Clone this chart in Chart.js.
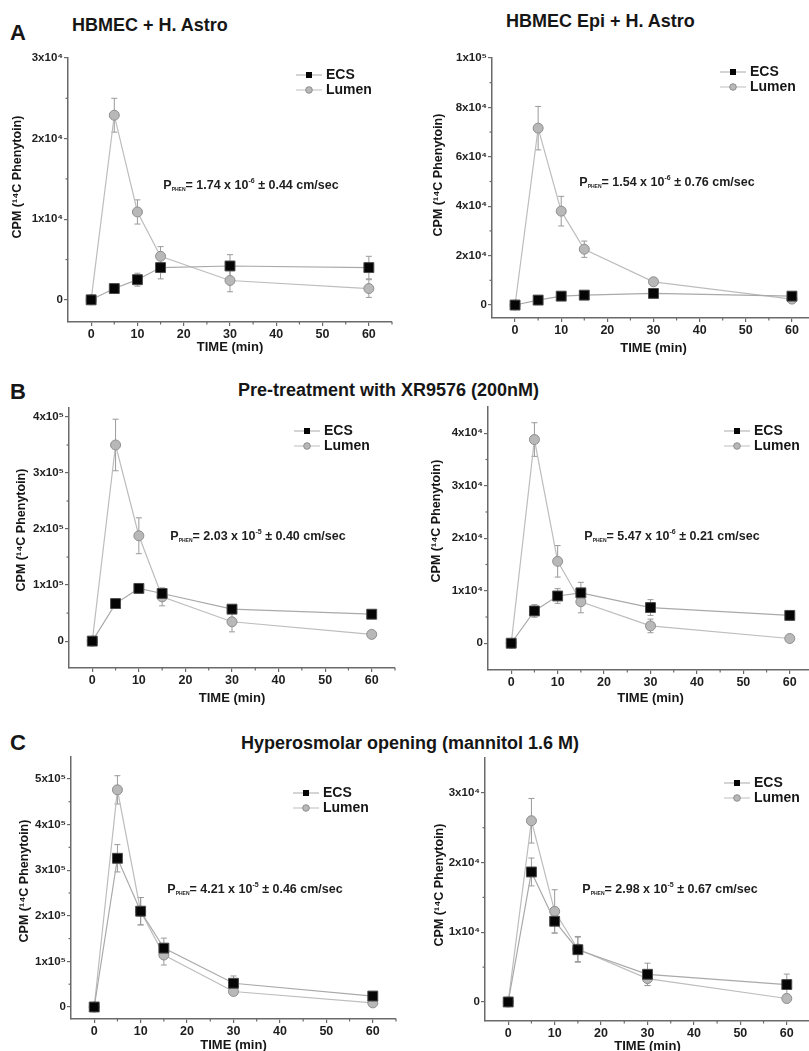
<!DOCTYPE html>
<html><head><meta charset="utf-8">
<script src="https://cdn.jsdelivr.net/npm/chart.js@4.4.1/dist/chart.umd.min.js"></script>
<style>
html,body{margin:0;padding:0;width:809px;height:1051px;overflow:hidden;background:#fff;}
canvas{position:absolute;left:0;top:0;}
.t{position:absolute;font-family:"Liberation Sans",Arial,sans-serif;font-weight:bold;color:#161616;white-space:nowrap;line-height:1;}
</style></head><body>
<div class="t" style="left:10px;top:22px;font-size:22px">A</div>
<div class="t" style="left:72px;top:16px;font-size:18px">HBMEC + H. Astro</div>
<div class="t" style="left:506px;top:12px;font-size:18px">HBMEC Epi + H. Astro</div>
<div class="t" style="left:10px;top:381px;font-size:22px">B</div>
<div class="t" style="left:238px;top:381px;font-size:18px">Pre-treatment with XR9576 (200nM)</div>
<div class="t" style="left:10px;top:732px;font-size:22px">C</div>
<div class="t" style="left:241px;top:734px;font-size:18px">Hyperosmolar opening (mannitol 1.6 M)</div>
<canvas id="c0" width="830" height="1051"></canvas>
<canvas id="c1" width="830" height="1051"></canvas>
<canvas id="c2" width="830" height="1051"></canvas>
<canvas id="c3" width="830" height="1051"></canvas>
<canvas id="c4" width="830" height="1051"></canvas>
<canvas id="c5" width="830" height="1051"></canvas>
<script>
// ---------- DATA ----------
const times = [0, 5, 10, 15, 30, 60];
const xTickValues = [0, 10, 20, 30, 40, 50, 60];
const xMinorTicks = [5, 15, 25, 35, 45, 55, 65];
const seriesNames = ['ECS', 'Lumen'];
const xAxisTitle = 'TIME (min)';
const yAxisTitle = 'CPM (\u00B9\u2074C Phenytoin)';

// Panel A left: HBMEC + H. Astro
const aLeftEcs      = [0, 1400, 2500, 4000, 4200, 4000];
const aLeftEcsErr   = [0, 300, 800, 1400, 1400, 1400];
const aLeftLumen    = [0, 22900, 10900, 5400, 2400, 1400];
const aLeftLumenErr = [0, 2100, 1500, 1200, 1400, 1100];
const aLeftYTicks   = [0, 10000, 20000, 30000];
const aLeftYLabels  = ['0', '1x10\u2074', '2x10\u2074', '3x10\u2074'];
const aLeftYMinor   = [5000, 15000, 25000];
const aLeftP        = ['1.74', '-6', '0.44'];

// Panel A right: HBMEC Epi + H. Astro
const aRightEcs      = [0, 2000, 3600, 4000, 4700, 3600];
const aRightEcsErr   = [0, 600, 800, 900, 1000, 900];
const aRightLumen    = [0, 71600, 38000, 22600, 9400, 2400];
const aRightLumenErr = [0, 8800, 6000, 3300, 1200, 800];
const aRightYTicks   = [0, 20000, 40000, 60000, 80000, 100000];
const aRightYLabels  = ['0', '2x10\u2074', '4x10\u2074', '6x10\u2074', '8x10\u2074', '1x10\u2075'];
const aRightYMinor   = [10000, 30000, 50000, 70000, 90000];
const aRightP        = ['1.54', '-6', '0.76'];

// Panel B left: pre-treatment XR9576
const bLeftEcs      = [0, 67000, 94000, 85000, 57000, 48000];
const bLeftEcsErr   = [0, 4000, 5000, 6000, 4000, 3000];
const bLeftLumen    = [0, 350000, 188000, 79000, 34500, 12000];
const bLeftLumenErr = [0, 46000, 32000, 16000, 18000, 5000];
const bLeftYTicks   = [0, 100000, 200000, 300000, 400000];
const bLeftYLabels  = ['0', '1x10\u2075', '2x10\u2075', '3x10\u2075', '4x10\u2075'];
const bLeftYMinor   = [50000, 150000, 250000, 350000];
const bLeftP        = ['2.03', '-5', '0.40'];

// Panel B right
const bRightEcs      = [0, 6150, 9000, 9600, 6800, 5300];
const bRightEcsErr   = [0, 1200, 1400, 2000, 1500, 900];
const bRightLumen    = [0, 38800, 15600, 7900, 3300, 900];
const bRightLumenErr = [0, 3200, 3000, 2100, 1300, 500];
const bRightYTicks   = [0, 10000, 20000, 30000, 40000];
const bRightYLabels  = ['0', '1x10\u2074', '2x10\u2074', '3x10\u2074', '4x10\u2074'];
const bRightYMinor   = [5000, 15000, 25000, 35000];
const bRightP        = ['5.47', '-6', '0.21'];

// Panel C left: hyperosmolar opening
const cLeftEcs      = [0, 326000, 210000, 129000, 52000, 24000];
const cLeftEcsErr   = [0, 30000, 30000, 22000, 16000, 8000];
const cLeftLumen    = [0, 476000, 210000, 114000, 34000, 9000];
const cLeftLumenErr = [0, 31000, 30000, 22000, 6000, 5000];
const cLeftYTicks   = [0, 100000, 200000, 300000, 400000, 500000];
const cLeftYLabels  = ['0', '1x10\u2075', '2x10\u2075', '3x10\u2075', '4x10\u2075', '5x10\u2075'];
const cLeftYMinor   = [50000, 150000, 250000, 350000, 450000];
const cLeftP        = ['4.21', '-5', '0.46'];

// Panel C right
const cRightEcs      = [0, 18650, 11580, 7500, 3970, 2500];
const cRightEcsErr   = [0, 2000, 1700, 1800, 1600, 1500];
const cRightLumen    = [0, 26000, 13000, 7600, 3350, 500];
const cRightLumenErr = [0, 3200, 3100, 1800, 1000, 600];
const cRightYTicks   = [0, 10000, 20000, 30000];
const cRightYLabels  = ['0', '1x10\u2074', '2x10\u2074', '3x10\u2074'];
const cRightYMinor   = [5000, 15000, 25000];
const cRightP        = ['2.98', '-5', '0.67'];

// ---------- LAYOUT (page pixels) ----------
const panels = [
  {ecs:aLeftEcs, ecsErr:aLeftEcsErr, lum:aLeftLumen, lumErr:aLeftLumenErr, yTicks:aLeftYTicks, yLabels:aLeftYLabels, yMinor:aLeftYMinor, p:aLeftP,
   yMin:-2750, yMax:30000, l:68, r:392, t:58, b:322, yTitle:[18,177], xTitleY:347, leg:[309,75], pPos:[251,186]},
  {ecs:aRightEcs, ecsErr:aRightEcsErr, lum:aRightLumen, lumErr:aRightLumenErr, yTicks:aRightYTicks, yLabels:aRightYLabels, yMinor:aRightYMinor, p:aRightP,
   yMin:-5250, yMax:100000, l:492, r:815, t:58, b:318, yTitle:[439,175], xTitleY:348, leg:[733,72], pPos:[667,183]},
  {ecs:bLeftEcs, ecsErr:bLeftEcsErr, lum:bLeftLumen, lumErr:bLeftLumenErr, yTicks:bLeftYTicks, yLabels:bLeftYLabels, yMinor:bLeftYMinor, p:bLeftP,
   yMin:-48000, yMax:416000, l:69, r:395, t:408, b:668, yTitle:[22,530], xTitleY:698, leg:[307,431], pPos:[258,537]},
  {ecs:bRightEcs, ecsErr:bRightEcsErr, lum:bRightLumen, lumErr:bRightLumenErr, yTicks:bRightYTicks, yLabels:bRightYLabels, yMinor:bRightYMinor, p:bRightP,
   yMin:-5100, yMax:45000, l:488, r:813, t:407, b:670, yTitle:[437,521], xTitleY:698, leg:[737,431], pPos:[672,537]},
  {ecs:cLeftEcs, ecsErr:cLeftEcsErr, lum:cLeftLumen, lumErr:cLeftLumenErr, yTicks:cLeftYTicks, yLabels:cLeftYLabels, yMinor:cLeftYMinor, p:cLeftP,
   yMin:-26300, yMax:548000, l:71, r:396, t:757, b:1019, yTitle:[25,881], xTitleY:1045, leg:[306,793], pPos:[255,890]},
  {ecs:cRightEcs, ecsErr:cRightEcsErr, lum:cRightLumen, lumErr:cRightLumenErr, yTicks:cRightYTicks, yLabels:cRightYLabels, yMinor:cRightYMinor, p:cRightP,
   yMin:-2730, yMax:35000, l:485, r:810, t:758, b:1021, yTitle:[440,885], xTitleY:1046, leg:[737,783], pPos:[670,890]}
];

const FAM = '"Liberation Sans", Arial, sans-serif';
const AXIS = '#6a6a6a';
const ECS_LINE = '#a9a9a9', LUM_LINE = '#bdbdbd';
const ECS_FILL = '#050505', LUM_FILL = '#b8b8b8', LUM_EDGE = '#8e8e8e';
const ERR = '#9a9a9a';

const errorBars = {
  id: 'errorBars',
  beforeDatasetsDraw(chart) {
    const {ctx, scales: {y}} = chart;
    ctx.save();
    ctx.strokeStyle = ERR; ctx.lineWidth = 1;
    chart.data.datasets.forEach((ds, di) => {
      const meta = chart.getDatasetMeta(di);
      meta.data.forEach((pt, i) => {
        const e = ds.errors[i];
        if (!e) return;
        const v = ds.data[i].y;
        const y1 = y.getPixelForValue(v + e), y2 = y.getPixelForValue(v - e);
        const x = pt.x;
        ctx.beginPath();
        ctx.moveTo(x, y1); ctx.lineTo(x, y2);
        ctx.moveTo(x - 3, y1); ctx.lineTo(x + 3, y1);
        ctx.moveTo(x - 3, y2); ctx.lineTo(x + 3, y2);
        ctx.stroke();
      });
    });
    ctx.restore();
  }
};

const extras = {
  id: 'extras',
  afterDraw(chart, args, o) {
    const {ctx, chartArea: a, scales: {x, y}} = chart;
    ctx.save();
    // minor ticks
    ctx.strokeStyle = AXIS; ctx.lineWidth = 1.2;
    xMinorTicks.forEach(v => {
      const px = x.getPixelForValue(v);
      ctx.beginPath(); ctx.moveTo(px, a.bottom); ctx.lineTo(px, a.bottom + 2.5); ctx.stroke();
    });
    o.yMinor.forEach(v => {
      const py = y.getPixelForValue(v);
      ctx.beginPath(); ctx.moveTo(a.left, py); ctx.lineTo(a.left - 2.5, py); ctx.stroke();
    });
    // y axis title
    ctx.save();
    ctx.translate(o.yTitle[0], o.yTitle[1]);
    ctx.rotate(-Math.PI / 2);
    ctx.fillStyle = '#161616';
    ctx.font = 'bold 12.5px ' + FAM;
    ctx.textAlign = 'center'; ctx.textBaseline = 'middle';
    ctx.fillText(yAxisTitle, 0, 0);
    ctx.restore();
    // legend
    const [mx, my] = o.leg;
    seriesNames.forEach((name, i) => {
      const yy = my + i * 15;
      ctx.strokeStyle = i === 0 ? ECS_LINE : LUM_LINE; ctx.lineWidth = 1;
      ctx.beginPath(); ctx.moveTo(mx - 13, yy); ctx.lineTo(mx + 13, yy); ctx.stroke();
      if (i === 0) {
        ctx.fillStyle = ECS_FILL; ctx.fillRect(mx - 3, yy - 3, 6, 6);
      } else {
        ctx.fillStyle = LUM_FILL; ctx.strokeStyle = LUM_EDGE;
        ctx.beginPath(); ctx.arc(mx, yy, 3.3, 0, Math.PI * 2); ctx.fill(); ctx.stroke();
      }
      ctx.fillStyle = '#161616';
      ctx.font = 'bold 14px ' + FAM;
      ctx.textBaseline = 'middle'; ctx.textAlign = 'left';
      ctx.fillText(name, mx + 17, yy + 0.5);
    });
    // permeability annotation
    const [m, ex, sd] = o.p;
    const parts = [
      {s: 'P', f: 12.5, dy: 0},
      {s: 'PHEN', f: 5, dy: 3.5},
      {s: '= ' + m + ' x 10', f: 12.5, dy: 0},
      {s: ex, f: 7, dy: -4.5},
      {s: ' \u00B1 ' + sd + ' cm/sec', f: 12.5, dy: 0}
    ];
    let total = 0;
    parts.forEach(pt => { ctx.font = 'bold ' + pt.f + 'px ' + FAM; pt.w = ctx.measureText(pt.s).width; total += pt.w; });
    let cx = o.pPos[0] - total / 2;
    ctx.fillStyle = '#1e1e1e'; ctx.textBaseline = 'middle'; ctx.textAlign = 'left';
    parts.forEach(pt => {
      ctx.font = 'bold ' + pt.f + 'px ' + FAM;
      ctx.fillText(pt.s, cx, o.pPos[1] + pt.dy);
      cx += pt.w;
    });
    ctx.restore();
  }
};

function makeChart(canvas, p) {
  const W = canvas.width, H = canvas.height;
  const tf = 13;
  const padLeft = p.yTitle[0] - 6;
  const scaleBottom = p.xTitleY + tf / 2;
  const xTickFont = {family: FAM, size: 12.5, weight: 'bold'};
  const yTickFont = {family: FAM, size: 11.5, weight: 'bold'};
  const titleFont = {family: FAM, size: tf, weight: 'bold', lineHeight: 1};
  return new Chart(canvas, {
    type: 'line',
    data: {
      datasets: [
        {label: seriesNames[0], data: times.map((t, i) => ({x: t, y: p.ecs[i]})), errors: p.ecsErr,
         borderColor: ECS_LINE, borderWidth: 1.2, tension: 0, fill: false,
         pointStyle: 'rect', pointRadius: 7, pointBackgroundColor: ECS_FILL, pointBorderColor: '#4a4a4a', pointBorderWidth: 1},
        {label: seriesNames[1], data: times.map((t, i) => ({x: t, y: p.lum[i]})), errors: p.lumErr,
         borderColor: LUM_LINE, borderWidth: 1.2, tension: 0, fill: false,
         pointStyle: 'circle', pointRadius: 5, pointBackgroundColor: LUM_FILL, pointBorderColor: LUM_EDGE, pointBorderWidth: 1}
      ]
    },
    options: {
      responsive: false, animation: false, events: [],
      layout: {padding: {left: padLeft, top: p.t, right: W - p.r, bottom: H - scaleBottom}},
      plugins: {legend: {display: false}, tooltip: {enabled: false},
                extras: {yMinor: p.yMinor, leg: p.leg, p: p.p, pPos: p.pPos, yTitle: p.yTitle}},
      scales: {
        x: {
          type: 'linear', min: -5, max: 65,
          afterFit: s => { s.height = scaleBottom - p.b; },
          afterBuildTicks: s => { s.ticks = xTickValues.map(v => ({value: v})); },
          ticks: {callback: v => String(v), font: xTickFont, color: '#1e1e1e', padding: 1, maxRotation: 0, autoSkip: false},
          grid: {display: true, drawOnChartArea: false, drawTicks: true, tickLength: 4, color: AXIS, lineWidth: 1.2},
          border: {display: true, color: AXIS, width: 1.5},
          title: {display: true, text: xAxisTitle, font: titleFont, color: '#161616', padding: 0}
        },
        y: {
          type: 'linear', min: p.yMin, max: p.yMax,
          afterFit: s => { s.width = p.l - padLeft; },
          afterBuildTicks: s => { s.ticks = p.yTicks.map(v => ({value: v})); },
          ticks: {callback: v => p.yLabels[p.yTicks.indexOf(v)], font: yTickFont, color: '#1e1e1e', padding: 1, autoSkip: false},
          grid: {display: true, drawOnChartArea: false, drawTicks: true, tickLength: 4, color: AXIS, lineWidth: 1.2},
          border: {display: true, color: AXIS, width: 1.5},
          title: {display: false}
        }
      }
    },
    plugins: [errorBars, extras]
  });
}

panels.forEach((p, i) => makeChart(document.getElementById('c' + i), p));
</script>
</body></html>
